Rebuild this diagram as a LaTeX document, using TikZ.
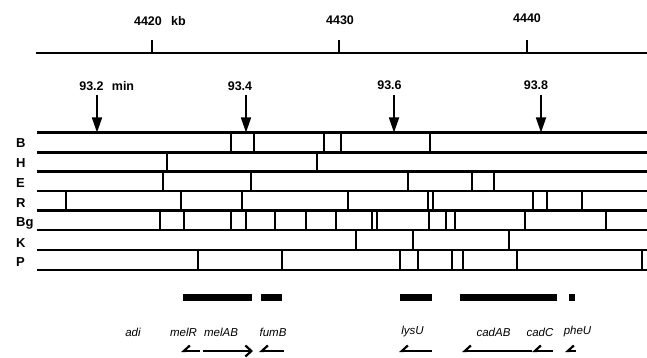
\documentclass[tikz,border=0pt]{standalone}
\usepackage{fontspec}
\setmainfont{Liberation Sans}
\usetikzlibrary{arrows.meta}
\tikzset{
  rowline/.style={line width=2.5pt},
  cutbar/.style={line width=2.3pt},
  axisline/.style={line width=1.4pt},
  numlbl/.style={font=\fontsize{12.5}{14}\selectfont\bfseries, inner sep=0pt},
  rowlbl/.style={font=\fontsize{13}{15}\selectfont\bfseries, inner sep=0pt, anchor=west},
  genelbl/.style={font=\fontsize{11.5}{13}\selectfont\itshape, inner sep=0pt},
  minarrow/.style={line width=1.7pt, -{Triangle[length=15pt,width=10pt]}, shorten >=-0.5pt},
  genebar/.style={fill=black, draw=none},
  leftgene/.style={line width=2pt, -{Straight Barb[right,length=6pt,width=11pt,line width=2.2pt]}},
  rightgene/.style={line width=2pt, -{Straight Barb[length=6pt,width=11pt,line width=2.2pt]}}
}
\begin{document}
\begin{tikzpicture}[x=1pt,y=-1pt]
\useasboundingbox (0,0) rectangle (647,358);
% kb axis
\coordinate (axL) at (36,53);
\coordinate (axR) at (647,53);
\draw[axisline] (axL) -- (axR);
\foreach \x/\n in {152/a,339/b,527/c}{
  \coordinate (tk\n) at (\x,53);
  \coordinate (tt\n) at (\x,40);
  \draw[axisline] (tk\n) -- (tt\n);
}
\node[numlbl] (kb4420) at (148,21) {4420};
\node[numlbl] (kbunit) at (178.5,21) {kb};
\node[numlbl] (kb4430) at (340,20) {4430};
\node[numlbl] (kb4440) at (527,18) {4440};
% min labels and arrows
\node[numlbl] (m932) at (91.5,86) {93.2};
\node[numlbl] (mmin) at (123,86) {min};
\node[numlbl] (m934) at (240,86) {93.4};
\node[numlbl] (m936) at (389.5,85) {93.6};
\node[numlbl] (m938) at (536,85) {93.8};
\foreach \x/\n in {97/a,246/b,394/c,541/d}{
  \coordinate (as\n) at (\x,95);
  \coordinate (ae\n) at (\x,132);
  \draw[minarrow] (as\n) -- (ae\n);
}
% row lines
\foreach \y [count=\i] in {132.7,152.3,171.7,191,210.7,230,250,270}{
  \coordinate (rl\i) at (37,\y);
  \coordinate (rr\i) at (647,\y);
  \draw[rowline] (rl\i) -- (rr\i);
}
% row labels
\node[rowlbl] (lB) at (16,143) {B};
\node[rowlbl] (lH) at (16,163) {H};
\node[rowlbl] (lE) at (16,183) {E};
\node[rowlbl] (lR) at (16,203) {R};
\node[rowlbl] (lBg) at (16,223) {Bg};
\node[rowlbl] (lK) at (16,243) {K};
\node[rowlbl] (lP) at (16,262) {P};
% cut sites
\foreach \x in {231,254,324,341,430}{\draw[cutbar] (\x,132.7) -- (\x,152.3);}
\foreach \x in {167,317}{\draw[cutbar] (\x,152.3) -- (\x,171.7);}
\foreach \x in {163,251,408,472,494}{\draw[cutbar] (\x,171.7) -- (\x,191);}
\foreach \x in {66,181,242,348,428,433,533,547,582}{\draw[cutbar] (\x,191) -- (\x,210.7);}
\foreach \x in {160,184,231,246,275,306,336,372,377,429,446,455,525,606}{\draw[cutbar] (\x,210.7) -- (\x,230);}
\foreach \x in {356,413,509}{\draw[cutbar] (\x,230) -- (\x,250);}
\foreach \x in {198,282,400,418,452,463,517,642}{\draw[cutbar] (\x,250) -- (\x,270);}
% gene bars
\fill[genebar] (183,294) rectangle (252,301);
\fill[genebar] (261,294) rectangle (282,301);
\fill[genebar] (400,294) rectangle (432,301);
\fill[genebar] (460,294) rectangle (557,301);
\fill[genebar] (569,294) rectangle (575,301);
% gene labels
\node[genelbl] (gadi) at (133,332) {adi};
\node[genelbl] (gmelR) at (183.5,332) {melR};
\node[genelbl] (gmelAB) at (221,332) {melAB};
\node[genelbl] (gfumB) at (273,332) {fumB};
\node[genelbl] (glysU) at (412.5,332) {lysU};
\node[genelbl] (gcadAB) at (493.5,332) {cadAB};
\node[genelbl] (gcadC) at (540,332) {cadC};
\node[genelbl] (gpheU) at (577.5,332) {pheU};
% transcription arrows
\coordinate (t1a) at (200,351); \coordinate (t1b) at (181,351);
\coordinate (t2a) at (203,351); \coordinate (t2b) at (253,351);
\coordinate (t3a) at (284,351); \coordinate (t3b) at (259,351);
\coordinate (t4a) at (432,351); \coordinate (t4b) at (399,351);
\coordinate (t5a) at (532,351); \coordinate (t5b) at (462,351);
\coordinate (t6a) at (553,351); \coordinate (t6b) at (532,351);
\coordinate (t7a) at (576,351); \coordinate (t7b) at (565,351);
\draw[leftgene] (t1a) -- (t1b);
\draw[rightgene] (t2a) -- (t2b);
\draw[leftgene] (t3a) -- (t3b);
\draw[leftgene] (t4a) -- (t4b);
\draw[leftgene] (t5a) -- (t5b);
\draw[leftgene] (t6a) -- (t6b);
\draw[leftgene] (t7a) -- (t7b);
\end{tikzpicture}
\end{document}
